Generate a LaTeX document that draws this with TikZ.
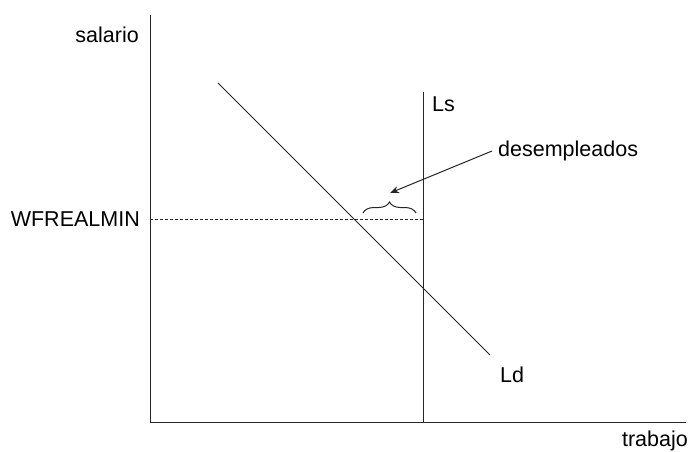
\documentclass[tikz,border=0pt]{standalone}
\usepackage{fontspec}
\setmainfont{Liberation Sans}
\usetikzlibrary{decorations.pathreplacing,arrows.meta}

\tikzset{
  curve/.style={draw=black!85, line width=1pt},
  lbl/.style={inner sep=0pt, font=\fontsize{21.5}{25}\selectfont},
}

\begin{document}
\begin{tikzpicture}[x=1pt, y=-1pt]
      \useasboundingbox (0,0) rectangle (688,451);
      % axes
      \coordinate (O) at (150,422);
      \coordinate (Ytop) at (150,15);
      \coordinate (Xend) at (686,422);
      \draw[curve] (Ytop) -- (O) -- (Xend);
      \node[lbl, anchor=east] (salario) at (139,35) {salario};
      \node[lbl, anchor=east] (trabajo) at (688,441) {trabajo};
      % labour supply and demand
      \coordinate (LsTop) at (423,92);
      \coordinate (LsBot) at (423,422);
      \draw[curve] (LsTop) -- (LsBot);
      \node[lbl, anchor=west] (Ls) at (432,104) {Ls};
      \coordinate (LdTop) at (218,83);
      \coordinate (LdBot) at (490,355);
      \draw[curve] (LdTop) -- (LdBot);
      \node[lbl] (Ld) at (512,375) {Ld};
      % minimum wage
      \coordinate (Wmin) at (150,219);
      \coordinate (WminLs) at (423,219);
      \draw[curve, line width=0.7pt, dash pattern=on 3pt off 2pt] (Wmin) -- (WminLs);
      \node[lbl, anchor=east] (WFREALMIN) at (140,219) {WFREALMIN};
      % unemployed
      \coordinate (BrL) at (363,213);
      \coordinate (BrR) at (416,213);
      \draw[curve, decorate, decoration={brace, amplitude=11pt}] (BrL) -- (BrR);
      \node[lbl, anchor=west] (desempleados) at (498,151) {desempleados};
      \coordinate (ArrTip) at (390,193);
      \draw[curve, -{Stealth[length=9pt, width=7pt]}] (desempleados.west) ++(-6,0) coordinate (ArrTail) -- (ArrTip);
    \end{tikzpicture}
\end{document}
